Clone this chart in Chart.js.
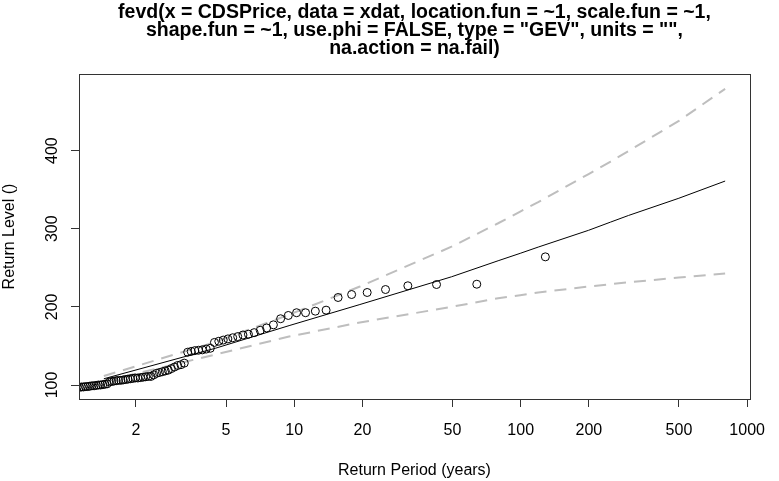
<!DOCTYPE html>
<html><head><meta charset="utf-8">
<script src="https://cdn.jsdelivr.net/npm/chart.js@4.4.1/dist/chart.umd.min.js"></script>
<style>html,body{margin:0;padding:0;background:#fff}#wrap{width:779px;height:481px}</style>
</head><body><div id="wrap"><canvas id="c" width="779" height="481"></canvas></div>
<script>
// Empirical return periods (years) of the sorted observations (visible part)
const returnPeriods = [1.0776,1.1006,1.1242,1.1483,1.1730,1.1984,1.2243,1.2510,1.2783,1.3064,1.3352,1.3649,1.3953,1.4267,1.4590,1.4922,1.5265,1.5618,1.5982,1.6358,1.6747,1.7148,1.7564,1.7994,1.8439,1.8901,1.9380,1.9877,2.0393,2.0930,2.1489,2.2070,2.2677,2.3311,2.3972,2.4663,2.5387,2.6146,2.6941,2.7778,2.8657,2.9584,3.0561,3.1594,3.2687,3.3845,3.5075,3.6384,3.7780,3.9271,4.0868,4.2583,4.4428,4.6421,4.8578,5.0924,5.3481,5.6281,5.9360,6.2762,6.6542,7.0765,7.5515,8.0897,8.7048,9.4142,10.242,11.220,12.393,13.827,15.620,17.924,20.996,25.297,31.748,42.499,64.000,128.50];
// Observed (sorted) return levels
const returnLevels = [96.5,97,97,97.5,97.5,98,98,98.5,99,99,99.5,100,100,100.5,101,101.5,104,104.5,105,105.5,106,106,106.5,107,107.5,108,108.5,109,109,109.5,110,110.5,111,111,113,115,116,117,118,119,121,123,125,126,128,142,143,144,144.5,145,146,147,154.5,156,157.5,159,160.5,162,164,165,167,170,173,177,184.8,189,192.5,192.5,194.5,195.8,212,215.8,218.4,222.2,227,228.6,229,264];
// Model return level curve and 95% confidence bounds
const curvePeriods = [1.4427,4.4814,9.4916,19.4958,49.4983,79.499,99.4992,119.4993,199.4996,249.4997,299.4997,499.4998,799.4999];
const rlEstimate = [108,147,176,203,238.5,259,268.5,276.5,298,308.5,317,339,361];
const ciUpper = [111.5,155,190,226,277,307,322,334,370,386,399.5,438,479];
const ciLower = [104.5,139,162,180,200,211,215,218.5,226,229,231.5,237.5,242.7];
const xTicks = [2,5,10,20,50,100,200,500,1000];
const yTicks = [100,200,300,400];
const titleLines = ['fevd(x = CDSPrice, data = xdat, location.fun = ~1, scale.fun = ~1,','shape.fun = ~1, use.phi = FALSE, type = "GEV", units = "",','na.action = na.fail)'];
const xTitle = 'Return Period (years)';
const yTitle = 'Return Level ()';

const FONT = "'Liberation Sans', Arial, Helvetica, sans-serif";
const pts = returnPeriods.map((x,i)=>({x, y: returnLevels[i]}));
const line = (arr)=>curvePeriods.map((x,i)=>({x, y: arr[i]}));

const frame = {
  id: 'frame',
  afterDatasetsDraw(chart){
    const {ctx, chartArea: a} = chart;
    ctx.save();
    ctx.strokeStyle = '#333'; ctx.lineWidth = 1;
    ctx.strokeRect(Math.round(a.left)+0.5, Math.round(a.top)+0.5, Math.round(a.right-a.left), Math.round(a.bottom-a.top));
    ctx.restore();
  },
  afterDraw(chart){
    const {ctx, chartArea: a} = chart;
    ctx.save();
    ctx.fillStyle = '#000';
    ctx.font = 'bold 19.5px ' + FONT;
    ctx.textAlign = 'center'; ctx.textBaseline = 'middle';
    const cx = (a.left + a.right)/2;
    const ys = [13, 31, 49];
    titleLines.forEach((t,i)=>ctx.fillText(t, cx, ys[i]));
    ctx.restore();
  }
};

new Chart(document.getElementById('c'), {
  type: 'scatter',
  data: { datasets: [
    { label: 'obs', data: pts, showLine: false, pointRadius: 4, pointHoverRadius: 4, pointBorderWidth: 1, pointBorderColor: '#000', pointBackgroundColor: 'rgba(0,0,0,0)' },
    { label: 'rl', data: line(rlEstimate), showLine: true, pointRadius: 0, borderColor: '#000', borderWidth: 1, tension: 0 },
    { label: 'upper', data: line(ciUpper), showLine: true, pointRadius: 0, borderColor: '#bebebe', borderWidth: 2, borderDash: [12, 8], tension: 0 },
    { label: 'lower', data: line(ciLower), showLine: true, pointRadius: 0, borderColor: '#bebebe', borderWidth: 2, borderDash: [12, 8], tension: 0 }
  ]},
  options: {
    responsive: false, animation: false, devicePixelRatio: 1,
    layout: { padding: { top: 74, right: 17, left: 0, bottom: 0 } },
    plugins: { legend: { display: false }, tooltip: { enabled: false }, title: { display: false } },
    scales: {
      x: {
        type: 'logarithmic', position: 'bottom', min: 1.1207, max: 1029,
        afterBuildTicks: (s)=>{ s.ticks = xTicks.map(v=>({value: v})); },
        afterFit: (s)=>{ s.height = 82; },
        border: { display: false },
        grid: { drawOnChartArea: false, drawTicks: true, tickLength: 8, color: '#333', lineWidth: 1 },
        ticks: { autoSkip: false, maxRotation: 0, minRotation: 0, padding: 14, color: '#000', font: { family: FONT, size: 16 }, callback: (v)=>String(v) },
        title: { display: true, text: xTitle, color: '#000', font: { family: FONT, size: 16 }, padding: { top: 0, bottom: 1 } }
      },
      y: {
        type: 'linear', position: 'left', min: 82.1, max: 498,
        afterBuildTicks: (s)=>{ s.ticks = yTicks.map(v=>({value: v})); },
        afterFit: (s)=>{ s.width = 79; },
        border: { display: false },
        grid: { drawOnChartArea: false, drawTicks: true, tickLength: 8, color: '#333', lineWidth: 1 },
        ticks: { autoSkip: false, minRotation: 90, maxRotation: 90, crossAlign: 'center', padding: 5, color: '#000', font: { family: FONT, size: 16 }, callback: (v)=>String(v) },
        title: { display: true, text: yTitle, color: '#000', font: { family: FONT, size: 16 }, padding: { top: 0, bottom: 0 } }
      }
    }
  },
  plugins: [frame]
});
</script></body></html>
